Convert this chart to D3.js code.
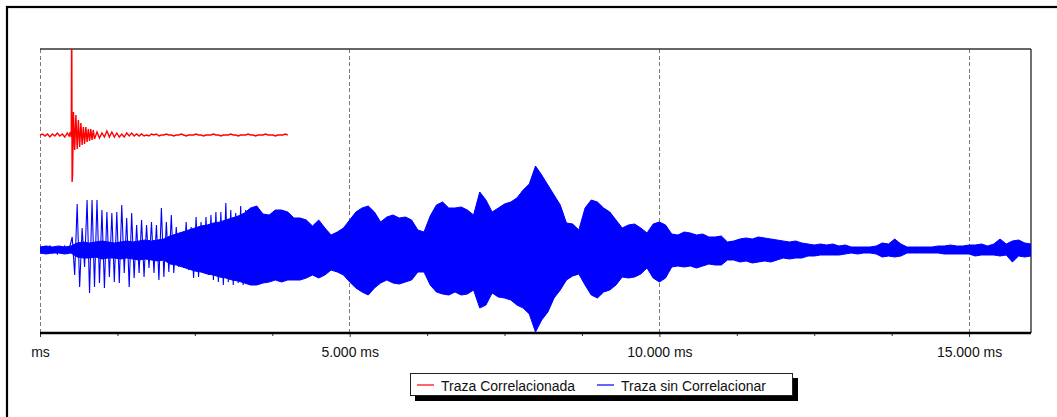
<!DOCTYPE html>
<html><head><meta charset="utf-8">
<script src="https://cdn.jsdelivr.net/npm/d3@7"></script>
<style>body{margin:0;background:#fff} svg{display:block}</style>
</head><body><svg id="c" width="1057" height="417"></svg>
<script>
// ---------- DATA ----------
const xDomain = [0, 16000];                 // ms
const yDomain = [-83, 201];                 // arbitrary amplitude units
const xMajorTicks = [0, 5000, 10000, 15000];
const xTickLabels = ["ms", "5.000 ms", "10.000 ms", "15.000 ms"];
const xMinorTicks = [1250, 2500, 3750, 6250, 7500, 8750, 11250, 12500, 13750];
const seriesNames = ["Traza Correlacionada", "Traza sin Correlacionar"];
const seriesColors = ["#ff0000", "#0000ff"];
const redOffset = 115;                      // baseline of the correlated trace

// Correlated trace: [ms, amplitude] around the spike
const redSpike = [[0,0],[40,1],[80,-1],[120,1],[160,-2],[200,1],[240,-1],[280,2],[320,-1],[360,1],[400,-2],[440,2],[470,-1],[490,3],[505,-2],[512,140],[518,-47],[526,-40],[540,23],[560,-15],[580,20],[600,-14],[620,15],[640,-12],[660,12],[680,-10],[700,8],[720,-9],[740,8],[760,-7],[780,6],[800,-6],[820,6],[840,-5],[860,5]];
// Correlated trace tail: amplitudes every 40 ms from 880 ms to 4000 ms
const redTailStart = 880, redTailStep = 40;
const redTail = [-4,3,-3,2,-2,4,-2,3,-2,
  2,-2,1,-2,2,-1,2,-1,1,-1,
  1,-1,0,-1,1,0,1,-1,0,0,
  1,0,0,-1,0,0,1,0,-1,0,
  0,0,1,0,0,-1,0,0,0,1,
  0,0,-1,0,0,0,1,0,0,-1,
  0,0,0,1,0,0,-1,0,0,0,
  1,0,0,0,-1,0,0,0,1,0];

// Uncorrelated trace, early part: alternating peaks every 40 ms (0 .. 3360 ms)
const blueStep = 40;
const bluePeaks = [2,-3,3,-2,4,-3,2,-4,3,-2,4,-3,3,
  13,-25,46,-37,22,-17,50,-43,50,-37,
  50,-33,40,-38,38,-27,37,-32,38,-33,
  45,-23,32,-37,37,-28,25,-23,30,-27,
  25,-18,28,-23,25,-30,42,-27,28,-22,
  35,-23,23,-17,18,-18,28,-20,23,-28,
  33,-27,28,-22,33,-25,35,-30,38,-32,
  38,-35,47,-32,40,-35,37,-33,44,-35,
  40,-33];

// Uncorrelated trace envelope every 100 ms (0 .. 16000 ms)
const envStep = 100;
const blueHigh = [3,4,3,4,3,4,
  7,8,7,8,9,8,7,8,9,8,9,10,9,10,11,
  14,16,18,20,22,24,25,27,28,30,32,34,37,
  42,44,36,35,40,40,
  38,32,32,30,24,30,22,15,18,22,
  30,38,42,44,38,28,33,35,32,33,
  30,20,18,34,45,48,42,42,43,40,
  35,58,50,38,42,46,48,52,60,66,
  84,75,65,55,45,27,26,20,42,50,
  48,42,38,30,22,25,26,22,17,26,
  28,25,16,15,18,17,15,16,13,13,
  14,8,9,11,12,11,13,12,11,10,
  9,8,9,7,6,5,6,5,6,4,
  5,3,3,3,3,4,7,6,11,6,
  3,3,3,3,3,4,4,5,4,4,
  5,5,6,4,6,11,6,9,10,7,
  6];
const blueLow = [-3,-4,-3,-3,-4,-3,
  -7,-8,-8,-7,-9,-8,-8,-9,-8,-9,-10,-9,-10,-11,-10,
  -14,-15,-17,-19,-21,-22,-24,-25,-27,-28,-30,-31,-33,
  -35,-35,-33,-32,-30,-32,
  -30,-30,-30,-28,-25,-28,-25,-20,-22,-25,
  -32,-38,-42,-45,-38,-33,-30,-33,-34,-32,
  -30,-22,-22,-35,-42,-44,-45,-42,-45,-44,
  -40,-58,-55,-43,-47,-48,-50,-55,-58,-64,
  -82,-70,-62,-48,-40,-30,-26,-24,-35,-45,
  -48,-42,-40,-35,-27,-28,-27,-24,-18,-28,
  -32,-28,-17,-16,-17,-16,-18,-16,-14,-15,
  -15,-10,-10,-12,-11,-13,-12,-11,-12,-10,
  -8,-9,-8,-8,-6,-6,-5,-5,-5,-5,
  -4,-3,-4,-3,-3,-4,-7,-6,-7,-6,
  -3,-3,-3,-3,-3,-3,-4,-4,-4,-4,
  -4,-6,-5,-5,-5,-6,-5,-12,-6,-7,
  -6];

// ---------- DRAW ----------
const svg = d3.select("#c");
const W = 1057, H = 417;
const M = {left: 40, right: 1031, top: 49, bottom: 333};
const FONT = "'Liberation Sans', Arial, sans-serif";

svg.append("rect").attr("width", W).attr("height", H).attr("fill", "#fff");
// outer frame (runs off the picture on the right and bottom)
svg.append("rect").attr("x", 7).attr("y", 7).attr("width", 1200).attr("height", 600)
  .attr("fill", "none").attr("stroke", "#000").attr("stroke-width", 2.2);

const x = d3.scaleLinear().domain(xDomain).range([M.left, M.right]);
const y = d3.scaleLinear().domain(yDomain).range([M.bottom, M.top]);

svg.append("clipPath").attr("id", "clip").append("rect")
  .attr("x", M.left).attr("y", M.top).attr("width", M.right - M.left).attr("height", M.bottom - M.top);

// gridlines
svg.append("g").selectAll("line").data(xMajorTicks).join("line")
  .attr("x1", d => x(d)).attr("x2", d => x(d))
  .attr("y1", M.top).attr("y2", M.bottom)
  .attr("stroke", "#7a7a7a").attr("stroke-width", 1).attr("stroke-dasharray", "4,2.5")
  .attr("shape-rendering", "crispEdges");

// top and right frame
svg.append("line").attr("x1", M.left).attr("x2", M.right).attr("y1", M.top).attr("y2", M.top)
  .attr("stroke", "#333").attr("stroke-width", 1.3);
svg.append("line").attr("x1", M.right).attr("x2", M.right).attr("y1", M.top).attr("y2", M.bottom)
  .attr("stroke", "#222").attr("stroke-width", 1.3);

const plot = svg.append("g").attr("clip-path", "url(#clip)");

// uncorrelated trace (blue): envelope + early peaks
const env = blueHigh.map((h, i) => ({t: i * envStep, h, l: blueLow[i]}));
plot.append("path").datum(env)
  .attr("d", d3.area().x(d => x(d.t)).y0(d => y(d.l)).y1(d => y(d.h)))
  .attr("fill", seriesColors[1]).attr("stroke", seriesColors[1]).attr("stroke-width", 1);
const peaks = bluePeaks.map((v, i) => ({t: i * blueStep, v}));
plot.append("path").datum(peaks)
  .attr("d", d3.line().x(d => x(d.t)).y(d => y(d.v)))
  .attr("fill", "none").attr("stroke", seriesColors[1]).attr("stroke-width", 1.1);

// correlated trace (red)
const red = redSpike.map(d => ({t: d[0], v: d[1]}))
  .concat(redTail.map((v, i) => ({t: redTailStart + i * redTailStep, v})));
plot.append("path").datum(red)
  .attr("d", d3.line().x(d => x(d.t)).y(d => y(redOffset + d.v)))
  .attr("fill", "none").attr("stroke", seriesColors[0]).attr("stroke-width", 1.4);

// x axis
const axMajor = svg.append("g").attr("transform", `translate(0,${M.bottom})`)
  .call(d3.axisBottom(x).tickValues(xMajorTicks).tickFormat((d, i) => xTickLabels[i])
    .tickSize(4).tickPadding(10));
const axMinor = svg.append("g").attr("transform", `translate(0,${M.bottom})`)
  .call(d3.axisBottom(x).tickValues(xMinorTicks).tickFormat("").tickSize(3));
[axMajor, axMinor].forEach(a => {
  a.select(".domain").remove();
  a.selectAll(".tick line").attr("stroke", "#333");
});
axMajor.selectAll("text").attr("font-family", FONT).attr("font-size", 14).attr("fill", "#111");
svg.append("line").attr("x1", M.left).attr("x2", M.right).attr("y1", M.bottom).attr("y2", M.bottom)
  .attr("stroke", "#000").attr("stroke-width", 2.4);

// legend
const lg = svg.append("g");
lg.append("rect").attr("x", 415).attr("y", 378).attr("width", 383).attr("height", 23).attr("fill", "#000");
lg.append("rect").attr("x", 410.5).attr("y", 373.5).attr("width", 382).attr("height", 22)
  .attr("fill", "#fff").attr("stroke", "#222").attr("stroke-width", 1);
const legendX = [417, 597];
seriesNames.forEach((name, i) => {
  lg.append("line").attr("x1", legendX[i]).attr("x2", legendX[i] + 17)
    .attr("y1", 385).attr("y2", 385).attr("stroke", seriesColors[i]).attr("stroke-width", 1.5)
    .attr("opacity", 0.8);
  lg.append("text").attr("x", legendX[i] + 24).attr("y", 390.5).text(name)
    .attr("font-family", FONT).attr("font-size", 14).attr("fill", "#111");
});
</script></body></html>
